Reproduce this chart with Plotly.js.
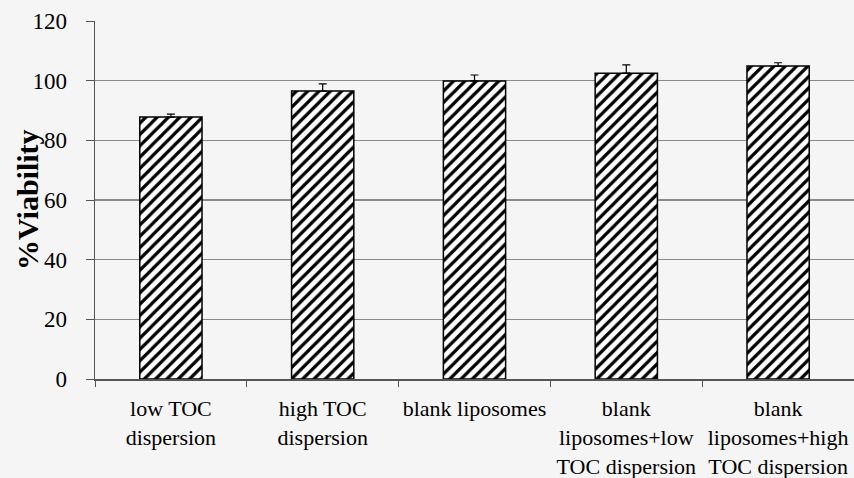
<!DOCTYPE html>
<html>
<head>
<meta charset="utf-8">
<script src="https://cdn.plot.ly/plotly-3.0.1.min.js"></script>
<style>html,body{margin:0;padding:0;background:#f5f5f5;}#chart{width:854px;height:478px;}</style>
</head>
<body>
<div id="chart"></div>
<script>
const categories = ["low TOC<br>dispersion", "high TOC<br>dispersion", "blank liposomes", "blank<br>liposomes+low<br>TOC dispersion", "blank<br>liposomes+high<br>TOC dispersion"];
const viability = [87.8, 96.5, 99.9, 102.5, 104.9];
const errors = [1.0, 2.4, 2.0, 2.8, 1.1];
const yTicks = [0, 20, 40, 60, 80, 100, 120];
const yTitle = '%Viability';

const SERIF = 'Liberation Serif';

const trace = {
  type: 'bar',
  x: categories,
  y: viability,
  width: 0.41,
  marker: {
    color: '#ffffff',
    line: {color: '#000000', width: 1.5},
    pattern: {shape: '/', fgcolor: '#000000', bgcolor: '#ffffff', size: 8, solidity: 0.4}
  },
  error_y: {type: 'data', array: errors, arrayminus: errors.map(() => 0), symmetric: false, color: '#000000', thickness: 1.2, width: 4},
  hoverinfo: 'none'
};

const layout = {
  width: 854, height: 478,
  margin: {l: 95, r: 0, t: 21, b: 99},
  paper_bgcolor: '#f5f5f5',
  plot_bgcolor: '#f5f5f5',
  font: {family: SERIF, color: '#000000', size: 20},
  showlegend: false,
  xaxis: {
    type: 'category',
    range: [-0.5, 4.5],
    showline: true, linecolor: '#555555', linewidth: 2,
    ticks: 'outside', ticklen: 6, tickcolor: '#555555',
    tickson: 'boundaries',
    tickangle: 0,
    showgrid: false,
    ticklabelstandoff: 9,
    tickfont: {family: SERIF, size: 22, color: '#000000'}
  },
  yaxis: {
    range: [0, 120],
    tickvals: yTicks,
    ticktext: yTicks.map(String),
    showline: true, linecolor: '#555555', linewidth: 1.5,
    ticks: 'outside', ticklen: 8, tickcolor: '#555555',
    showgrid: true, gridcolor: '#8a8a8a', gridwidth: 1.2,
    zeroline: false,
    ticklabelstandoff: 14,
    tickfont: {family: SERIF, size: 23, color: '#000000'}
  },
  annotations: [{
    text: '<b>' + yTitle + '</b>',
    xref: 'paper', yref: 'paper',
    x: -68 / 759, y: 0.5,
    xanchor: 'center', yanchor: 'middle',
    textangle: -90,
    showarrow: false,
    font: {family: SERIF, size: 30, color: '#000000'}
  }]
};

Plotly.newPlot('chart', [trace], layout, {displayModeBar: false, staticPlot: true});
</script>
</body>
</html>
